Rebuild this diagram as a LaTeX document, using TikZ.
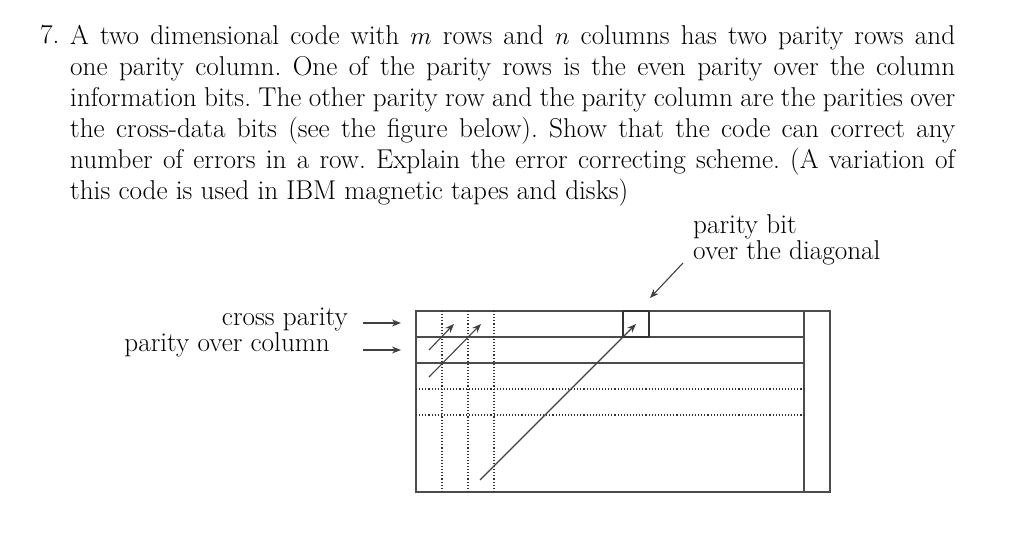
\documentclass[tikz,border=0pt]{standalone}
\usetikzlibrary{arrows.meta}
\begin{document}
\frenchspacing
\begin{tikzpicture}[x=1pt,y=-1pt,
  grid/.style={line width=1.1pt,black!70},
  dots/.style={line width=1.1pt,dotted,black!80},
  arr/.style={line width=1.1pt,black!75,-{Stealth[length=9pt,width=7pt]}},
  txt/.style={inner sep=0pt,font=\fontsize{27.2}{31}\selectfont}]
\useasboundingbox (0,0) rectangle (1024,556);
\node[txt,anchor=base west] (num) at (40,44) {7.};
\node[txt,anchor=north west,text width=885pt,align=justify] (para) at (70,25) {A two dimensional code with $m$ rows and $n$ columns has two parity rows and\linebreak one parity column. One of the parity rows is the even parity over the column\linebreak information bits. The other parity row and the parity column are the parities over\linebreak the cross-data bits (see the figure below). Show that the code can correct any\linebreak number of errors in a row. Explain the error correcting scheme. (A variation of\linebreak this code is used in IBM magnetic tapes and disks)};
% grid
\draw[grid] (416,311) rectangle (830,492);
\draw[grid] (804,311) -- (804,492);
\draw[grid] (416,337) -- (804,337);
\draw[grid] (416,363) -- (804,363);
\draw[dots] (416,389) -- (804,389);
\draw[dots] (416,415) -- (804,415);
\foreach \x in {442,468,494} \draw[dots] (\x,311) -- (\x,492);
\node[draw,line width=1.1pt,black!80,minimum size=26pt,inner sep=0pt] (cell) at (636,324) {};
% diagonal arrows
\coordinate (a1) at (429,350); \coordinate (b1) at (454,324);
\coordinate (a2) at (429,377); \coordinate (b2) at (481,324);
\coordinate (a3) at (480,480); \coordinate (b3) at (636,324);
\draw[arr] (a1) -- (b1);
\draw[arr] (a2) -- (b2);
\draw[arr] (a3) -- (b3);
% labels
\node[txt,anchor=base east] (cp) at (348,325) {cross parity};
\node[txt,anchor=base east] (pc) at (330,351) {parity over column};
\coordinate (c1) at (363,323); \coordinate (d1) at (401,323);
\coordinate (c2) at (363,350); \coordinate (d2) at (401,350);
\draw[arr] (c1) -- (d1);
\draw[arr] (c2) -- (d2);
\node[txt,anchor=base west] (pb) at (693,233) {parity bit};
\node[txt,anchor=base west] (od) at (693,259) {over the diagonal};
\coordinate (p1) at (683,263);
\draw[arr] (p1) -- (650,298);
\end{tikzpicture}
\end{document}
